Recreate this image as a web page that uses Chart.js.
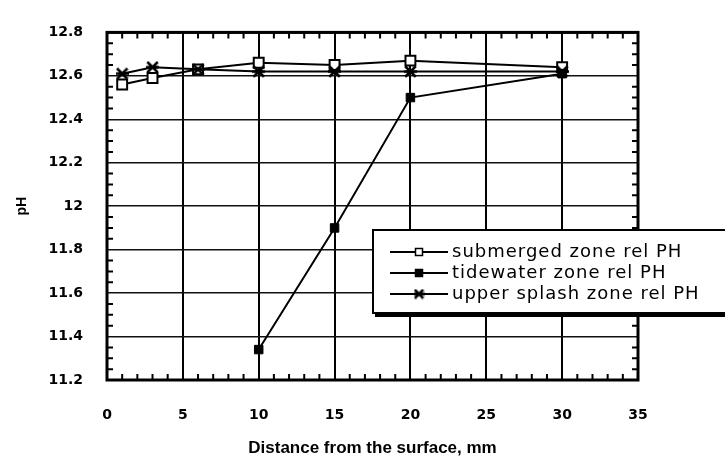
<!DOCTYPE html>
<html>
<head>
<meta charset="utf-8">
<script src="https://cdn.jsdelivr.net/npm/chart.js@4.4.0/dist/chart.umd.min.js"></script>
<style>
  html, body { margin: 0; padding: 0; background: #fff; }
  #wrap { width: 725px; height: 459px; }
</style>
</head>
<body>
<div id="wrap"><canvas id="grafica" width="725" height="459"></canvas></div>
<script>
// values
const distances = [1, 3, 6, 10, 15, 20, 30];
const submergedPH = [12.56, 12.59, 12.63, 12.66, 12.65, 12.67, 12.64];
const tidewaterDist = [10, 15, 20, 30];
const tidewaterPH = [11.34, 11.90, 12.50, 12.61];
const splashPH = [12.61, 12.64, 12.63, 12.62, 12.62, 12.62, 12.62];

const xTicks = [0, 5, 10, 15, 20, 25, 30, 35];
const yTicks = [11.2, 11.4, 11.6, 11.8, 12.0, 12.2, 12.4, 12.6, 12.8];
const yTickLabels = ['11.2', '11.4', '11.6', '11.8', '12', '12.2', '12.4', '12.6', '12.8'];

function makeAsterisk(size, lw) {
  const c = document.createElement('canvas');
  c.width = c.height = size;
  const g = c.getContext('2d');
  g.strokeStyle = '#000';
  g.lineWidth = lw;
  const m = lw / 2, e = size - lw / 2;
  g.beginPath();
  g.moveTo(m, m); g.lineTo(e, e);
  g.moveTo(e, m); g.lineTo(m, e);
  g.moveTo(0, size / 2); g.lineTo(size, size / 2);
  g.stroke();
  return c;
}
const asterisk = makeAsterisk(13, 2.5);
const asteriskSmall = makeAsterisk(11, 2.5);

function pts(xs, ys) {
  return xs.map((v, i) => ({ x: v, y: ys[i] }));
}

// frame + inward minor ticks on all four sides
const frameTicks = {
  id: 'frameTicks',
  beforeDatasetsDraw(chart) {
    const { ctx, chartArea: a, scales: { x, y } } = chart;
    ctx.save();
    ctx.strokeStyle = '#000';
    ctx.lineWidth = 2;
    ctx.beginPath();
    for (let i = 0; i <= 35; i++) {
      if (i % 5 === 0) continue;
      const px = x.getPixelForValue(i);
      ctx.moveTo(px, a.top); ctx.lineTo(px, a.top + 6);
      ctx.moveTo(px, a.bottom); ctx.lineTo(px, a.bottom - 6);
    }
    for (let j = 0; j <= 32; j++) {
      if (j % 4 === 0) continue;
      const py = y.getPixelForValue(11.2 + j * 0.05);
      ctx.moveTo(a.left, py); ctx.lineTo(a.left + 6, py);
      ctx.moveTo(a.right, py); ctx.lineTo(a.right - 6, py);
    }
    ctx.stroke();
    ctx.lineWidth = 3;
    ctx.strokeRect(a.left, a.top, a.right - a.left, a.bottom - a.top);
    ctx.restore();
  }
};

// boxed legend with drop shadow, partly outside the plot
const boxLegend = {
  id: 'boxLegend',
  afterDraw(chart) {
    const ctx = chart.ctx;
    const bx = 373, by = 230, bw = 370, bh = 83;
    ctx.save();
    ctx.fillStyle = '#000';
    ctx.fillRect(bx + 2, by + 4, bw, bh);
    ctx.fillStyle = '#fff';
    ctx.fillRect(bx, by, bw, bh);
    ctx.strokeStyle = '#000';
    ctx.lineWidth = 2;
    ctx.strokeRect(bx, by, bw, bh);

    ctx.font = '18px "DejaVu Sans"';
    if ('letterSpacing' in ctx) ctx.letterSpacing = '1px';
    ctx.textBaseline = 'middle';
    ctx.textAlign = 'left';
    chart.data.datasets.forEach((ds, i) => {
      const yy = 252 + i * 21;
      ctx.strokeStyle = '#000';
      ctx.lineWidth = 2;
      ctx.beginPath();
      ctx.moveTo(390, yy); ctx.lineTo(448, yy);
      ctx.stroke();
      if (ds.pointStyle === 'rect') {
        const s = 7;
        ctx.fillStyle = ds.pointBackgroundColor;
        ctx.fillRect(419 - s / 2, yy - s / 2, s, s);
        ctx.lineWidth = 1.5;
        ctx.strokeRect(419 - s / 2, yy - s / 2, s, s);
      } else {
        ctx.drawImage(asteriskSmall, 419 - 5.5, yy - 5.5);
      }
      ctx.fillStyle = '#000';
      ctx.fillText(ds.label, 452, yy);
    });
    ctx.restore();
  }
};

const datasets = [
  {
    label: 'submerged zone rel PH',
    data: pts(distances, submergedPH),
    borderColor: '#000',
    borderWidth: 2,
    pointStyle: 'rect',
    pointRadius: 7,
    pointBorderWidth: 2,
    pointBorderColor: '#000',
    pointBackgroundColor: '#fff',
    order: 3
  },
  {
    label: 'tidewater zone rel PH',
    data: pts(tidewaterDist, tidewaterPH),
    borderColor: '#000',
    borderWidth: 2,
    pointStyle: 'rect',
    pointRadius: 6,
    pointBorderWidth: 1,
    pointBorderColor: '#000',
    pointBackgroundColor: '#000',
    order: 2
  },
  {
    label: 'upper splash zone rel PH',
    data: pts(distances, splashPH),
    borderColor: '#000',
    borderWidth: 2,
    pointStyle: asterisk,
    pointRadius: 6,
    order: 1
  }
];

const ctx = document.getElementById('grafica').getContext('2d');
new Chart(ctx, {
  type: 'line',
  data: { datasets: datasets },
  options: {
    responsive: false,
    animation: false,
    devicePixelRatio: 1,
    layout: { padding: { top: 15, right: 87, left: 0, bottom: 0 } },
    plugins: {
      legend: { display: false },
      tooltip: { enabled: false }
    },
    scales: {
      x: {
        type: 'linear',
        min: 0,
        max: 35,
        afterBuildTicks: (scale) => { scale.ticks = xTicks.map(v => ({ value: v })); },
        afterFit: (scale) => { scale.height = 79; },
        border: { display: false },
        grid: {
          drawTicks: false,
          color: '#000',
          lineWidth: 2
        },
        ticks: {
          padding: 27,
          color: '#000',
          font: { family: '"DejaVu Sans"', size: 14, weight: 'bold' }
        },
        title: {
          display: true,
          text: 'Distance from the surface, mm',
          color: '#000',
          padding: { top: 0, bottom: 0 },
          font: { family: '"Liberation Sans"', size: 17, weight: 'bold' }
        }
      },
      y: {
        min: 11.2,
        max: 12.8,
        afterBuildTicks: (scale) => { scale.ticks = yTicks.map(v => ({ value: v })); },
        afterFit: (scale) => { scale.width = 107; },
        border: { display: false },
        grid: {
          drawTicks: false,
          color: '#111',
          lineWidth: 1.5
        },
        ticks: {
          padding: 24,
          color: '#000',
          font: { family: '"DejaVu Sans"', size: 14, weight: 'bold' },
          callback: (value, index) => yTickLabels[index]
        },
        title: {
          display: true,
          text: 'pH',
          color: '#000',
          padding: { top: 14, bottom: 0 },
          font: { family: '"Liberation Sans"', size: 14, weight: 'bold' }
        }
      }
    }
  },
  plugins: [frameTicks, boxLegend]
});
</script>
</body>
</html>
